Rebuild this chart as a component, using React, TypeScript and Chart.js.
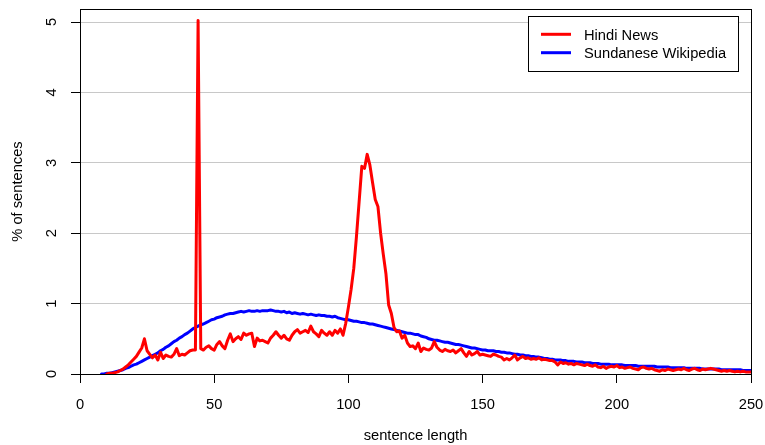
import React, { useEffect, useRef } from "react";
import { Chart, registerables } from "chart.js";

Chart.register(...registerables);

const FONT = "'Liberation Sans', Arial, Helvetica, sans-serif";
const FONT_SIZE = 14.7;

const SERIES_NAMES = ["Hindi News", "Sundanese Wikipedia"];
const SERIES_COLORS = ["#ff0000", "#0000ff"];

const X_TITLE = "sentence length";
const Y_TITLE = "% of sentences";
const X_TICKS = [0, 50, 100, 150, 200, 250];
const Y_TICKS = [0, 1, 2, 3, 4, 5];

// Hindi News: % of sentences per length, starting at length 10
const HINDI_START = 10;
const HINDI = [
  0.00, 0.01, 0.01, 0.02, 0.03, 0.05, 0.07, 0.10, 0.13, 0.17,
  0.21, 0.25, 0.31, 0.37, 0.50, 0.33, 0.28, 0.23, 0.27, 0.20,
  0.31, 0.22, 0.27, 0.25, 0.24, 0.28, 0.36, 0.26, 0.28, 0.27,
  0.30, 0.33, 0.34, 0.34, 5.02, 0.36, 0.34, 0.38, 0.40, 0.36,
  0.34, 0.42, 0.46, 0.40, 0.36, 0.48, 0.57, 0.46, 0.50, 0.53,
  0.49, 0.58, 0.55, 0.57, 0.58, 0.39, 0.51, 0.47, 0.48, 0.46,
  0.44, 0.51, 0.55, 0.60, 0.55, 0.51, 0.55, 0.50, 0.48, 0.55,
  0.60, 0.63, 0.58, 0.60, 0.62, 0.59, 0.68, 0.60, 0.57, 0.53,
  0.62, 0.58, 0.55, 0.60, 0.55, 0.62, 0.58, 0.64, 0.55, 0.72,
  0.95, 1.20, 1.50, 1.95, 2.45, 2.95, 2.92, 3.12, 2.97, 2.72,
  2.48, 2.38, 2.00, 1.70, 1.42, 0.98, 0.86, 0.66, 0.60, 0.61,
  0.51, 0.55, 0.44, 0.39, 0.40, 0.36, 0.44, 0.32, 0.37, 0.35,
  0.34, 0.37, 0.46, 0.38, 0.34, 0.32, 0.35, 0.33, 0.32, 0.34,
  0.30, 0.33, 0.36, 0.30, 0.25, 0.32, 0.27, 0.29, 0.32, 0.27,
  0.28, 0.27, 0.26, 0.25, 0.28, 0.27, 0.25, 0.24, 0.20, 0.22,
  0.20, 0.23, 0.27, 0.20, 0.23, 0.25, 0.22, 0.23, 0.21, 0.22,
  0.21, 0.23, 0.20, 0.21, 0.20, 0.19, 0.19, 0.17, 0.13, 0.17,
  0.15, 0.16, 0.14, 0.15, 0.13, 0.15, 0.14, 0.13, 0.12, 0.14,
  0.12, 0.11, 0.13, 0.10, 0.09, 0.11, 0.08, 0.10, 0.11, 0.10,
  0.12, 0.09, 0.10, 0.08, 0.09, 0.10, 0.08, 0.07, 0.06, 0.09,
  0.10, 0.08, 0.07, 0.08, 0.06, 0.05, 0.04, 0.06, 0.05, 0.07,
  0.06, 0.05, 0.06, 0.07, 0.06, 0.08, 0.06, 0.05, 0.07, 0.08,
  0.06, 0.05, 0.07, 0.06, 0.07, 0.08, 0.07, 0.06, 0.05, 0.04,
  0.05, 0.04, 0.05, 0.04, 0.03, 0.04, 0.03, 0.04, 0.03, 0.03,
  0.03,
];

// Sundanese Wikipedia: % of sentences per length, starting at length 8
const SUNDANESE_START = 8;
const SUNDANESE = [
  0.00, 0.00,
  0.01, 0.01, 0.02, 0.03, 0.04, 0.05, 0.06, 0.08, 0.09, 0.11,
  0.13, 0.14, 0.16, 0.18, 0.20, 0.22, 0.24, 0.26, 0.28, 0.30,
  0.33, 0.35, 0.38, 0.40, 0.43, 0.46, 0.48, 0.51, 0.53, 0.56,
  0.58, 0.61, 0.64, 0.66, 0.68, 0.70, 0.71, 0.73, 0.75, 0.77,
  0.78, 0.80, 0.81, 0.82, 0.84, 0.85, 0.86, 0.86, 0.87, 0.88,
  0.89, 0.88, 0.89, 0.90, 0.89, 0.89, 0.90, 0.89, 0.90, 0.90,
  0.90, 0.91, 0.90, 0.89, 0.89, 0.88, 0.89, 0.87, 0.88, 0.86,
  0.87, 0.86, 0.85, 0.86, 0.85, 0.84, 0.85, 0.84, 0.83, 0.84,
  0.83, 0.83, 0.82, 0.82, 0.81, 0.82, 0.80, 0.79, 0.78, 0.77,
  0.77, 0.76, 0.75, 0.75, 0.74, 0.73, 0.73, 0.72, 0.71, 0.71,
  0.70, 0.69, 0.68, 0.67, 0.66, 0.65, 0.64, 0.63, 0.62, 0.61,
  0.60, 0.59, 0.58, 0.58, 0.57, 0.56, 0.56, 0.54, 0.53, 0.52,
  0.50, 0.49, 0.48, 0.48, 0.47, 0.46, 0.45, 0.45, 0.44, 0.43,
  0.42, 0.42, 0.41, 0.40, 0.39, 0.38, 0.37, 0.37, 0.36, 0.35,
  0.34, 0.34, 0.33, 0.33, 0.33, 0.32, 0.32, 0.31, 0.31, 0.30,
  0.30, 0.29, 0.28, 0.28, 0.27, 0.27, 0.26, 0.26, 0.25, 0.25,
  0.24, 0.24, 0.23, 0.22, 0.22, 0.21, 0.21, 0.20, 0.20, 0.20,
  0.19, 0.19, 0.18, 0.18, 0.18, 0.17, 0.17, 0.17, 0.16, 0.16,
  0.16, 0.15, 0.15, 0.15, 0.14, 0.14, 0.14, 0.14, 0.13, 0.13,
  0.13, 0.13, 0.13, 0.12, 0.12, 0.12, 0.12, 0.12, 0.11, 0.11,
  0.11, 0.11, 0.11, 0.11, 0.11, 0.10, 0.10, 0.10, 0.10, 0.10,
  0.09, 0.09, 0.09, 0.09, 0.09, 0.09, 0.08, 0.08, 0.08, 0.08,
  0.08, 0.08, 0.07, 0.07, 0.07, 0.07, 0.07, 0.07, 0.07, 0.06,
  0.06, 0.06, 0.06, 0.06, 0.06, 0.06, 0.06, 0.05, 0.05, 0.05,
  0.05,
];

const X_MIN = 0;
const X_MAX = 250;
const Y_MIN = 0;
const Y_MAX = 5.185;

const framePlugin = {
  id: "rframe",
  afterDraw(chart: any) {
    const { ctx, chartArea } = chart;
    const l = Math.round(chartArea.left) + 0.5;
    const r = Math.round(chartArea.right) + 0.5;
    const t = Math.round(chartArea.top) + 0.5;
    const b = Math.round(chartArea.bottom) + 0.5;
    ctx.save();
    ctx.strokeStyle = "#000";
    ctx.lineWidth = 1;
    ctx.strokeRect(l, t, r - l, b - t);
    ctx.restore();
  },
};

const legendPlugin = {
  id: "rlegend",
  afterDraw(chart: any) {
    const { ctx, chartArea } = chart;
    const sets = chart.data.datasets;
    ctx.save();
    ctx.font = `${FONT_SIZE}px ${FONT}`;
    let maxW = 0;
    sets.forEach((d: any) => {
      maxW = Math.max(maxW, ctx.measureText(d.label).width);
    });
    const textOffset = 56;
    const width = Math.round(textOffset + maxW + 12);
    const height = 55;
    const right = Math.round(chartArea.right) - 13;
    const left = right - width;
    const top = Math.round(chartArea.top) + 7;
    ctx.fillStyle = "#fff";
    ctx.fillRect(left + 0.5, top + 0.5, width, height);
    ctx.strokeStyle = "#000";
    ctx.lineWidth = 1;
    ctx.strokeRect(left + 0.5, top + 0.5, width, height);
    const rowStart = top + 18.3;
    const rowGap = 18.4;
    sets.forEach((d: any, i: number) => {
      const y = rowStart + i * rowGap;
      ctx.strokeStyle = d.borderColor;
      ctx.lineWidth = 3;
      ctx.lineCap = "butt";
      ctx.beginPath();
      ctx.moveTo(left + 13, y);
      ctx.lineTo(left + 43, y);
      ctx.stroke();
      ctx.fillStyle = "#000";
      ctx.textAlign = "left";
      ctx.textBaseline = "alphabetic";
      ctx.fillText(d.label, left + textOffset, y + 5.6);
    });
    ctx.restore();
  },
};

export default function App() {
  const canvasRef = useRef<HTMLCanvasElement | null>(null);

  useEffect(() => {
    document.body.style.margin = "0";
    const canvas = canvasRef.current;
    if (!canvas) return;

    const font = { family: FONT, size: FONT_SIZE };

    const chart = new Chart(canvas, {
      type: "line",
      data: {
        datasets: [
          {
            label: SERIES_NAMES[0],
            data: HINDI.map((v, i) => ({ x: HINDI_START + i, y: v })),
            borderColor: SERIES_COLORS[0],
            backgroundColor: SERIES_COLORS[0],
          },
          {
            label: SERIES_NAMES[1],
            data: SUNDANESE.map((v, i) => ({ x: SUNDANESE_START + i, y: v })),
            borderColor: SERIES_COLORS[1],
            backgroundColor: SERIES_COLORS[1],
          },
        ],
      },
      options: {
        responsive: false,
        animation: false,
        events: [],
        layout: { padding: { top: 9, right: 14, left: 0, bottom: 0 } },
        plugins: {
          legend: { display: false },
          tooltip: { enabled: false },
        },
        elements: {
          point: { radius: 0 },
          line: {
            borderWidth: 3,
            tension: 0,
            borderJoinStyle: "round",
            borderCapStyle: "round",
            fill: false,
          },
        },
        scales: {
          x: {
            type: "linear",
            position: "bottom",
            min: X_MIN,
            max: X_MAX,
            afterFit: (s: any) => {
              s.height = 71;
              s.paddingLeft = 0;
              s.paddingRight = 0;
            },
            afterBuildTicks: (s: any) => {
              s.ticks = X_TICKS.map((value) => ({ value }));
            },
            grid: {
              drawOnChartArea: false,
              drawTicks: true,
              tickLength: 9,
              tickColor: "#000",
              tickWidth: 1,
            },
            border: { display: true, color: "#000", width: 1 },
            ticks: {
              color: "#000",
              font,
              padding: 13,
              maxRotation: 0,
              autoSkip: false,
            },
            title: {
              display: true,
              text: X_TITLE,
              color: "#000",
              font,
              padding: { top: 0, bottom: 0 },
            },
          },
          y: {
            type: "linear",
            position: "left",
            min: Y_MIN,
            max: Y_MAX,
            afterFit: (s: any) => {
              s.width = 80;
              s.paddingTop = 0;
              s.paddingBottom = 0;
            },
            afterBuildTicks: (s: any) => {
              s.ticks = Y_TICKS.map((value) => ({ value }));
            },
            grid: {
              color: (c: any) =>
                c.tick && c.tick.value === 0 ? "rgba(0,0,0,0)" : "#c8c8c8",
              lineWidth: 1,
              drawTicks: true,
              tickLength: 9,
              tickColor: "#000",
              tickWidth: 1,
            },
            border: { display: true, color: "#000", width: 1 },
            ticks: {
              color: "#000",
              font,
              padding: 15,
              minRotation: 90,
              maxRotation: 90,
              crossAlign: "center",
              autoSkip: false,
            },
            title: {
              display: true,
              text: Y_TITLE,
              color: "#000",
              font,
              padding: { top: 9, bottom: 0 },
            },
          },
        },
      },
      plugins: [framePlugin, legendPlugin],
    } as any);

    return () => {
      chart.destroy();
    };
  }, []);

  return (
    <div style={{ width: 765, height: 445, background: "#fff" }}>
      <canvas
        ref={canvasRef}
        width={765}
        height={445}
        style={{ display: "block", width: 765, height: 445 }}
      />
    </div>
  );
}
